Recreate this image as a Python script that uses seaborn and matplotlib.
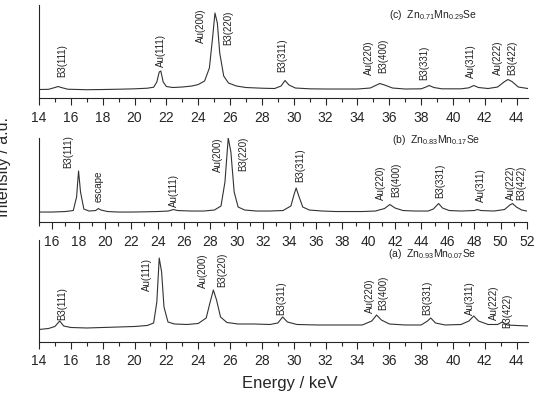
import matplotlib
matplotlib.use("Agg")
import matplotlib.pyplot as plt
import seaborn as sns
import pandas as pd
from matplotlib.ticker import MultipleLocator

# spectra (energy in keV, intensity in arbitrary units)
energy_c = [14.0, 14.6, 15.0, 15.2, 15.4, 15.8, 17.0, 18.0, 19.0, 20.0, 20.8, 21.2, 21.4, 21.55,
            21.65, 21.8, 22.0, 22.4, 23.0, 23.6, 24.0, 24.4, 24.7, 24.9, 25.05, 25.2, 25.35, 25.6,
            25.9, 26.4, 27.0, 28.0, 28.8, 29.2, 29.45, 29.7, 30.1, 31.0, 32.0, 33.0, 34.0, 34.8,
            35.2, 35.4, 35.7, 36.2, 37.0, 38.0, 38.3, 38.5, 38.8, 39.3, 40.5, 41.0, 41.3, 41.6,
            42.2, 42.8, 43.2, 43.45, 43.7, 44.1, 44.7]
counts_c = [8.5, 8.7, 10.5, 11.5, 10.5, 8.8, 8.3, 8.5, 8.8, 9.2, 9.8, 10.8, 16, 26,
            27, 16, 11.5, 10.5, 11, 12, 13.5, 17, 30, 60, 85, 75, 45, 22,
            15, 12, 10.5, 9.8, 9.5, 12, 17.5, 13, 10, 9.2, 9, 9, 9, 10,
            13, 14.5, 13, 10, 9, 9.2, 11, 12.5, 10.5, 9.2, 9.2, 10.2, 12.5, 10.5,
            9.5, 11, 16, 18.5, 16.5, 11, 9.5]

energy_b = [15.0, 16.0, 17.0, 17.6, 17.85, 18.0, 18.15, 18.4, 18.8, 19.3, 19.5, 19.7, 20.2, 21.0,
            22.0, 23.0, 24.0, 24.8, 25.2, 25.5, 26.5, 27.5, 28.3, 28.8, 29.1, 29.35, 29.55, 29.8,
            30.1, 30.6, 31.5, 32.5, 33.5, 34.1, 34.35, 34.5, 34.7, 35.0, 35.5, 36.5, 37.5, 38.5,
            39.5, 40.5, 41.2, 41.6, 42.0, 42.6, 43.5, 44.5, 44.9, 45.3, 45.6, 46.1, 47.0, 48.0,
            48.25, 48.5, 49.5, 50.3, 50.7, 50.9, 51.2, 51.6, 52.0]
counts_b = [10, 10, 10.5, 11.5, 25, 51, 30, 13, 11, 11.5, 13.5, 12, 10.5, 10,
            10, 10.2, 10.5, 11, 12.5, 11.5, 11, 11, 12, 16, 40, 84, 70, 30,
            15, 12, 11, 11, 11.5, 16, 28, 34, 26, 15, 12, 11, 10.5, 10.5,
            10.5, 11, 13.5, 17.5, 14, 11.5, 11, 11, 13, 18.5, 14, 11.5, 11, 11.5,
            12.5, 11.5, 11, 12.5, 17, 18.5, 15, 12, 11]

energy_a = [14.0, 14.6, 15.0, 15.3, 15.55, 16.0, 17.0, 18.0, 19.0, 20.0, 20.8, 21.2, 21.4, 21.55,
            21.7, 21.85, 22.1, 22.5, 23.3, 24.0, 24.5, 24.75, 24.95, 25.15, 25.4, 25.8, 26.5, 27.5,
            28.5, 29.0, 29.3, 29.6, 30.2, 31.5, 33.0, 34.3, 34.9, 35.2, 35.5, 36.0, 37.0, 38.0,
            38.4, 38.6, 38.9, 39.5, 40.5, 41.0, 41.3, 41.6, 42.2, 42.8, 43.1, 43.4, 44.0, 44.7]
counts_a = [12.5, 13.5, 15.5, 21, 16, 14.5, 14, 14.5, 15, 15.5, 16.5, 19, 40, 84,
            70, 35, 20, 18, 17.5, 18.5, 24, 40, 52, 42, 25, 19.5, 18, 18,
            17.5, 19, 25, 20, 17.5, 17, 17, 17, 21, 27, 22, 18, 17, 17,
            21, 24, 19, 17, 17.5, 21, 26, 21, 17.5, 17.5, 20, 17, 16.5, 16]

# peak labels: text, energy, height of label foot
labels_c = ["B3(111)", "Au(111)", "Au(200)", "B3(220)", "B3(311)", "Au(220)", "B3(400)",
            "B3(331)", "Au(311)", "Au(222)", "B3(422)"]
lab_x_c = [15.44, 21.66, 24.2, 25.87, 29.25, 34.7, 35.6, 38.2, 41.1, 42.8, 43.7]
lab_y_c = [21, 31, 55, 53, 26, 23, 25, 18, 20, 23, 23]

labels_b = ["B3(111)", "escape", "Au(111)", "Au(200)", "B3(220)", "B3(311)", "Au(220)",
            "B3(400)", "B3(331)", "Au(311)", "Au(222)", "B3(422)"]
lab_x_b = [17.2, 19.5, 25.2, 28.6, 30.5, 34.8, 40.9, 42.1, 45.4, 48.5, 50.8, 51.6]
lab_y_b = [54, 20, 15, 50, 51, 40, 22, 25, 24, 20, 22, 22]

labels_a = ["B3(111)", "Au(111)", "Au(200)", "B3(220)", "B3(311)", "Au(220)", "B3(400)",
            "B3(331)", "Au(311)", "Au(222)", "B3(422)"]
lab_x_a = [15.44, 20.8, 24.3, 25.5, 29.2, 34.8, 35.6, 38.4, 41.06, 42.6, 43.4]
lab_y_a = [22, 51, 54, 55, 27, 29, 32, 27, 27, 22, 14]

sns.set_style("ticks")
plt.rcParams['font.family'] = ['Liberation Sans', 'DejaVu Sans']
plt.rcParams['mathtext.default'] = 'regular'

fig = plt.figure(figsize=(5.37, 3.93), dpi=100)

panels = [
    # rect, x, y, labels, lx, ly, xlim, ylim, title, title pos
    ([0.0726, 0.7506, 0.9104, 0.2366], energy_c, counts_c, labels_c, lab_x_c, lab_y_c,
     (14, 44.7), (0, 93), r"(c)  Zn$_{0.71}$Mn$_{0.29}$Se", (36.0, 83)),
    ([0.0726, 0.4350, 0.9087, 0.2140], energy_b, counts_b, labels_b, lab_x_b, lab_y_b,
     (15, 52), (0, 84), r"(b)  Zn$_{0.83}$Mn$_{0.17}$Se", (41.8, 82)),
    ([0.0726, 0.1298, 0.9104, 0.2595], energy_a, counts_a, labels_a, lab_x_a, lab_y_a,
     (14, 44.7), (0, 102), r"(a)  Zn$_{0.93}$Mn$_{0.07}$Se", (35.9, 88)),
]

for rect, x, y, labs, lx, ly, xl, yl, title, tpos in panels:
    ax = fig.add_axes(rect)
    ax.patch.set_alpha(0)
    df = pd.DataFrame({"E": x, "I": y})
    sns.lineplot(data=df, x="E", y="I", ax=ax, color="#333333", linewidth=0.8,
                 estimator=None, sort=False)
    ax.set_xlim(*xl)
    ax.set_ylim(*yl)
    ax.set_xlabel("")
    ax.set_ylabel("")
    ax.set_yticks([])
    ax.spines['top'].set_visible(False)
    ax.spines['right'].set_visible(False)
    ax.spines['left'].set_linewidth(0.8)
    ax.spines['bottom'].set_linewidth(0.8)
    ax.xaxis.set_major_locator(MultipleLocator(2))
    ax.xaxis.set_minor_locator(MultipleLocator(1))
    ax.tick_params(axis='x', which='major', direction='out', length=5, width=0.8,
                   labelsize=10, pad=4)
    ax.tick_params(axis='x', which='minor', direction='out', length=3, width=0.8)
    for t, px, py in zip(labs, lx, ly):
        ax.text(px, py, t, rotation=90, ha='center', va='bottom', fontsize=7,
                color="#222222")
    ax.text(tpos[0], tpos[1], title, ha='left', va='center', fontsize=7.5, color="#222222")

fig.text(0.54, 0.025, "Energy / keV", ha='center', va='center', fontsize=12)
fig.text(0.006, 0.575, "Intensity / a.u.", rotation=90, ha='center', va='center',
         fontsize=11.5)

fig.savefig("out.png", dpi=100)
